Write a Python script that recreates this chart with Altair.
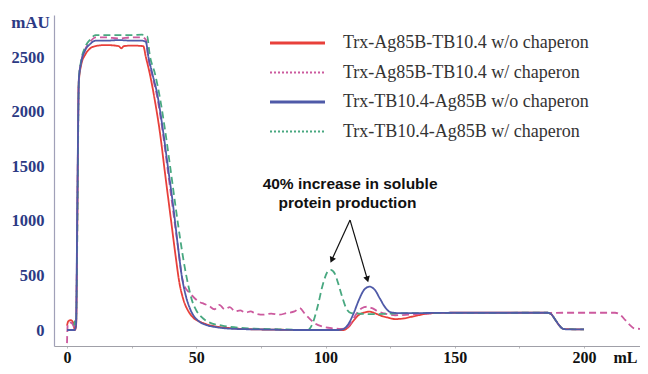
import math
import altair as alt
import pandas as pd

# ---------------- data ----------------
series = [
    "Trx-Ag85B-TB10.4 w/o chaperon",
    "Trx-Ag85B-TB10.4 w/ chaperon",
    "Trx-TB10.4-Ag85B w/o chaperon",
    "Trx-TB10.4-Ag85B w/ chaperon",
]
colors = ["#e8403a", "#cc5a9e", "#4f5aa8", "#48a880"]

red_ml = [0, 0.5, 1.5, 2.5, 3, 3.5, 4, 4.5, 5.5, 7, 9, 11, 15, 20, 21, 22, 25, 29.5, 30.5, 32, 34, 36, 38, 40, 42,
          43.5, 45, 47, 49, 52, 56, 62, 75, 100, 107, 109, 111, 113, 115, 117, 119, 121, 124, 127, 130, 134, 138,
          142, 150, 186, 187.5, 189, 190.5, 192, 200]
red_mau = [40, 80, 90, 60, 0, 30, 1000, 2250, 2430, 2520, 2580, 2600, 2610, 2600, 2580, 2600, 2605, 2600, 2500,
           2350, 2100, 1800, 1420, 1050, 680, 430, 280, 170, 110, 70, 40, 20, 5, 0, 0, 30, 90, 140, 160, 168, 155,
           135, 115, 100, 105, 125, 145, 155, 158, 158, 140, 90, 40, 10, 5]

pink_ml = [0, 0.3, 1, 2, 3, 3.5, 4, 4.6, 5.5, 7, 9, 11, 15, 20, 25, 29, 30.5, 31.5, 33, 35, 37, 39, 41, 43, 44.5,
           45.5, 47, 49, 51, 53, 55, 57, 59, 61, 63, 65, 67, 69, 71, 73, 76, 79, 82, 85, 88, 90, 92, 94, 96, 99,
           103, 106, 108, 110, 112, 114, 116, 118, 120, 123, 127, 132, 138, 145, 212, 214, 216, 218, 219.5, 222]
pink_mau = [-120, 60, 70, 60, 20, 50, 1100, 2300, 2460, 2570, 2640, 2680, 2680, 2670, 2680, 2680, 2660, 2480, 2330,
            2120, 1820, 1460, 1100, 750, 480, 400, 350, 300, 260, 240, 220, 190, 230, 190, 210, 170, 180, 160, 170,
            150, 140, 150, 140, 155, 170, 200, 150, 100, 60, 30, 15, 10, 20, 70, 150, 200, 213, 200, 175, 150, 135,
            140, 150, 156, 158, 140, 90, 40, 15, 10]

blue_ml = [0, 2, 3, 3.5, 4, 4.6, 5.5, 7, 9, 11, 15, 20, 25, 29, 30.5, 31.5, 33, 35, 37, 39, 41, 43, 44.5, 46, 47.5,
           49, 51, 54, 58, 65, 75, 90, 105, 107, 109, 111, 113, 115, 117, 119, 121, 123, 125, 128, 135, 150, 170,
           186, 187.5, 189, 190.5, 192, 194, 200]
blue_mau = [0, 0, 0, 50, 1200, 2300, 2450, 2560, 2620, 2650, 2650, 2655, 2650, 2650, 2640, 2500, 2350, 2150, 1850,
            1500, 1150, 750, 480, 310, 200, 130, 80, 45, 25, 10, 5, 0, 0, 10, 60, 160, 280, 370, 397, 370, 290, 210,
            165, 155, 155, 158, 158, 158, 140, 90, 40, 10, 5, 5]

green_ml = [0, 2.5, 3, 3.5, 4, 4.6, 5.5, 7, 9, 11, 15, 20, 25, 29, 31, 32, 34, 36, 38, 40, 42, 44, 45.5, 47, 48.5,
            50, 52, 55, 60, 70, 85, 93, 95, 97, 99, 101, 102, 103.5, 105, 106.5, 108, 110, 113, 118, 125, 135, 186,
            187.5, 189, 190.5, 192, 200]
green_mau = [0, 0, 80, 60, 900, 2300, 2470, 2590, 2660, 2700, 2700, 2700, 2700, 2705, 2690, 2520, 2350, 2120, 1820,
             1480, 1130, 800, 580, 400, 260, 180, 120, 70, 40, 15, 5, 0, 60, 220, 420, 540, 550, 520, 420, 300, 200,
             155, 150, 145, 150, 155, 158, 140, 90, 40, 10, 5]

y_ticks = [0, 500, 1000, 1500, 2000, 2500]
x_ticks = [0, 25, 50, 75, 100, 125, 150, 175, 200]

annot_lines = ["40% increase in soluble", "protein production"]
annot_x = [109.5, 108.5]
annot_y = [1340, 1163]

arrow_x = [109.5, 109.5]
arrow_y = [1007, 1007]
arrow_x2 = [102.4, 116.2]
arrow_y2 = [641, 464]

# ---------------- layout constants ----------------
W, H = 586, 331
X_DOM = [-5.03, 221.66]
Y_DOM = [-146.5, 2885]
px_per_x = W / (X_DOM[1] - X_DOM[0])
px_per_y = H / (Y_DOM[1] - Y_DOM[0])

SERIF = "Liberation Serif"
SANS = "Liberation Sans"
NAVY = "#2c3a84"

rows = []
for name, xs, ys in [
    (series[0], red_ml, red_mau),
    (series[1], pink_ml, pink_mau),
    (series[3], green_ml, green_mau),
    (series[2], blue_ml, blue_mau),
]:
    for i, (a, b) in enumerate(zip(xs, ys)):
        rows.append({"series": name, "ml": a, "mau": b, "i": i})
df = pd.DataFrame(rows)

x_scale = alt.Scale(domain=X_DOM, nice=False, zero=False)
y_scale = alt.Scale(domain=Y_DOM, nice=False, zero=False)

lines = alt.Chart(df).mark_line(strokeWidth=1.8, clip=True, interpolate="monotone").encode(
    x=alt.X("ml:Q", scale=x_scale, axis=alt.Axis(
        values=x_ticks, labelExpr="datum.value % 50 == 0 ? datum.label : ''",
        grid=False, tickSize=2, tickColor="#bbbbbb", domainColor="#a0a0a8", domainWidth=1.2,
        labelFont=SERIF, labelFontWeight="bold", labelFontSize=16, labelColor="#111111",
        labelPadding=1, labelBaseline="top",
        title="mL", titleFont=SERIF, titleFontWeight="bold", titleFontSize=16, titleColor="#111111",
        titleX=571, titleY=3, titleAlign="center", titleBaseline="top")),
    y=alt.Y("mau:Q", scale=y_scale, axis=alt.Axis(
        values=y_ticks, format="d", grid=False, ticks=False, domainColor="#a0a0b8", domainWidth=1.2,
        labelFont=SERIF, labelFontWeight="bold", labelFontSize=16.5, labelColor=NAVY, labelPadding=10,
        title="mAU", titleFont=SERIF, titleFontWeight="bold", titleFontSize=17, titleColor=NAVY,
        titleAngle=0, titleX=-24, titleY=7, titleAlign="center", titleBaseline="middle")),
    color=alt.Color("series:N", scale=alt.Scale(domain=series, range=colors), legend=None),
    strokeDash=alt.StrokeDash("series:N", scale=alt.Scale(domain=series, range=[[1, 0], [7, 4], [1, 0], [7, 4]]),
                              legend=None),
    order=alt.Order("i:Q"),
)

layers = [lines]

# legend (drawn manually)
leg_dash = [[1, 0], [2, 2], [1, 0], [2, 2]]
leg_width = [3, 2, 3, 2]
for k, name in enumerate(series):
    ly = 28 + k * 29.5
    one = pd.DataFrame({"series": [name]})
    layers.append(alt.Chart(one).mark_rule(strokeWidth=leg_width[k], strokeDash=leg_dash[k], color=colors[k]).encode(
        x=alt.value(216), x2=alt.value(271), y=alt.value(ly)))
    layers.append(alt.Chart(one).mark_text(align="left", baseline="middle", font=SERIF, fontSize=18,
                                           color="#333333").encode(
        x=alt.value(289), y=alt.value(ly), text="series:N"))

# annotation text
ann = pd.DataFrame({"t": annot_lines, "x": annot_x, "y": annot_y})
layers.append(alt.Chart(ann).mark_text(font=SANS, fontWeight="bold", fontSize=15.5, color="#111111",
                                       align="center", baseline="middle").encode(
    x=alt.X("x:Q", scale=x_scale), y=alt.Y("y:Q", scale=y_scale), text="t:N"))

# arrows
arr = pd.DataFrame({"x": arrow_x, "y": arrow_y, "x2": arrow_x2, "y2": arrow_y2})
angles = []
for a, b, c, d in zip(arrow_x, arrow_y, arrow_x2, arrow_y2):
    dx = (c - a) * px_per_x
    dy = -(d - b) * px_per_y
    angles.append((math.degrees(math.atan2(dx, -dy)) + 360) % 360)
arr["ang"] = angles
layers.append(alt.Chart(arr).mark_rule(color="#111111", strokeWidth=1.2).encode(
    x=alt.X("x:Q", scale=x_scale), y=alt.Y("y:Q", scale=y_scale), x2="x2:Q", y2="y2:Q"))
layers.append(alt.Chart(arr).mark_point(shape="triangle-up", filled=True, size=45, color="#111111",
                                        opacity=1).encode(
    x=alt.X("x2:Q", scale=x_scale), y=alt.Y("y2:Q", scale=y_scale),
    angle=alt.Angle("ang:Q", scale=None)))

chart = alt.layer(*layers).properties(
    width=W, height=H,
    padding={"left": 46, "top": 7, "right": 0, "bottom": 20},
    autosize=alt.AutoSizeParams(type="none"),
    background="white",
).configure_view(stroke=None)

chart.save("out.html", embed_options={"renderer": "svg", "actions": False})
